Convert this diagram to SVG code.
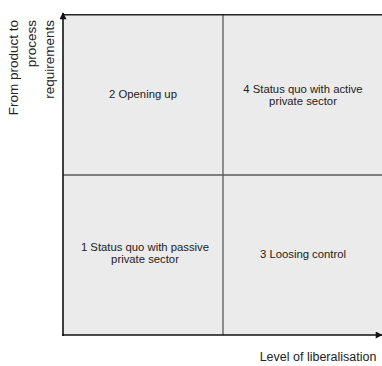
<svg xmlns="http://www.w3.org/2000/svg" width="382" height="366" viewBox="0 0 382 366">
<style>
.q{fill:#ebebeb;stroke:none}
.div{stroke:#5a5a5a;stroke-width:1.3;fill:none}
.t{font-family:"Liberation Sans",Arial,sans-serif;font-size:11.3px;fill:#222;text-anchor:middle}
.ax{font-family:"Liberation Sans",Arial,sans-serif;font-size:12.5px;fill:#222}
.yl{font-family:"Liberation Sans",Arial,sans-serif;font-size:13.5px;fill:#222;text-anchor:end}
.axis{stroke:#111;stroke-width:1.6;fill:none}
</style>
<defs>
<marker id="ah" viewBox="0 0 10 10" refX="9" refY="5" markerWidth="8" markerHeight="7" markerUnits="userSpaceOnUse" orient="auto">
<path d="M0,0 L10,5 L0,10 z" fill="#111"/>
</marker>
</defs>
<rect class="q" x="63" y="15" width="319" height="320"/>
<g id="q2"><text class="t" x="143" y="98">2 Opening up</text></g>
<g id="q4"><text class="t" x="303" y="93">4 Status quo with active</text><text class="t" x="303" y="105">private sector</text></g>
<g id="q1"><text class="t" x="145" y="251">1 Status quo with passive</text><text class="t" x="145" y="263">private sector</text></g>
<g id="q3"><text class="t" x="303" y="258">3 Loosing control</text></g>
<g id="connectors">
<line class="div" x1="223" y1="15" x2="223" y2="335"/>
<line class="div" x1="63" y1="175" x2="382" y2="175"/>
<line x1="63" y1="14.7" x2="382" y2="14.7" stroke="#222" stroke-width="1.4"/>
<line class="axis" x1="63" y1="336" x2="63" y2="13" marker-end="url(#ah)"/>
<line class="axis" x1="62" y1="335" x2="382" y2="335" marker-end="url(#ah)"/>
</g>
<g id="labels">
<text class="ax" x="318" y="361" text-anchor="middle">Level of liberalisation</text>
<g transform="rotate(-90)">
<text class="yl" x="-20" y="18">From product to</text>
<text class="yl" x="-20" y="36">process</text>
<text class="yl" x="-20" y="54">requirements</text>
</g>
</g>
</svg>
